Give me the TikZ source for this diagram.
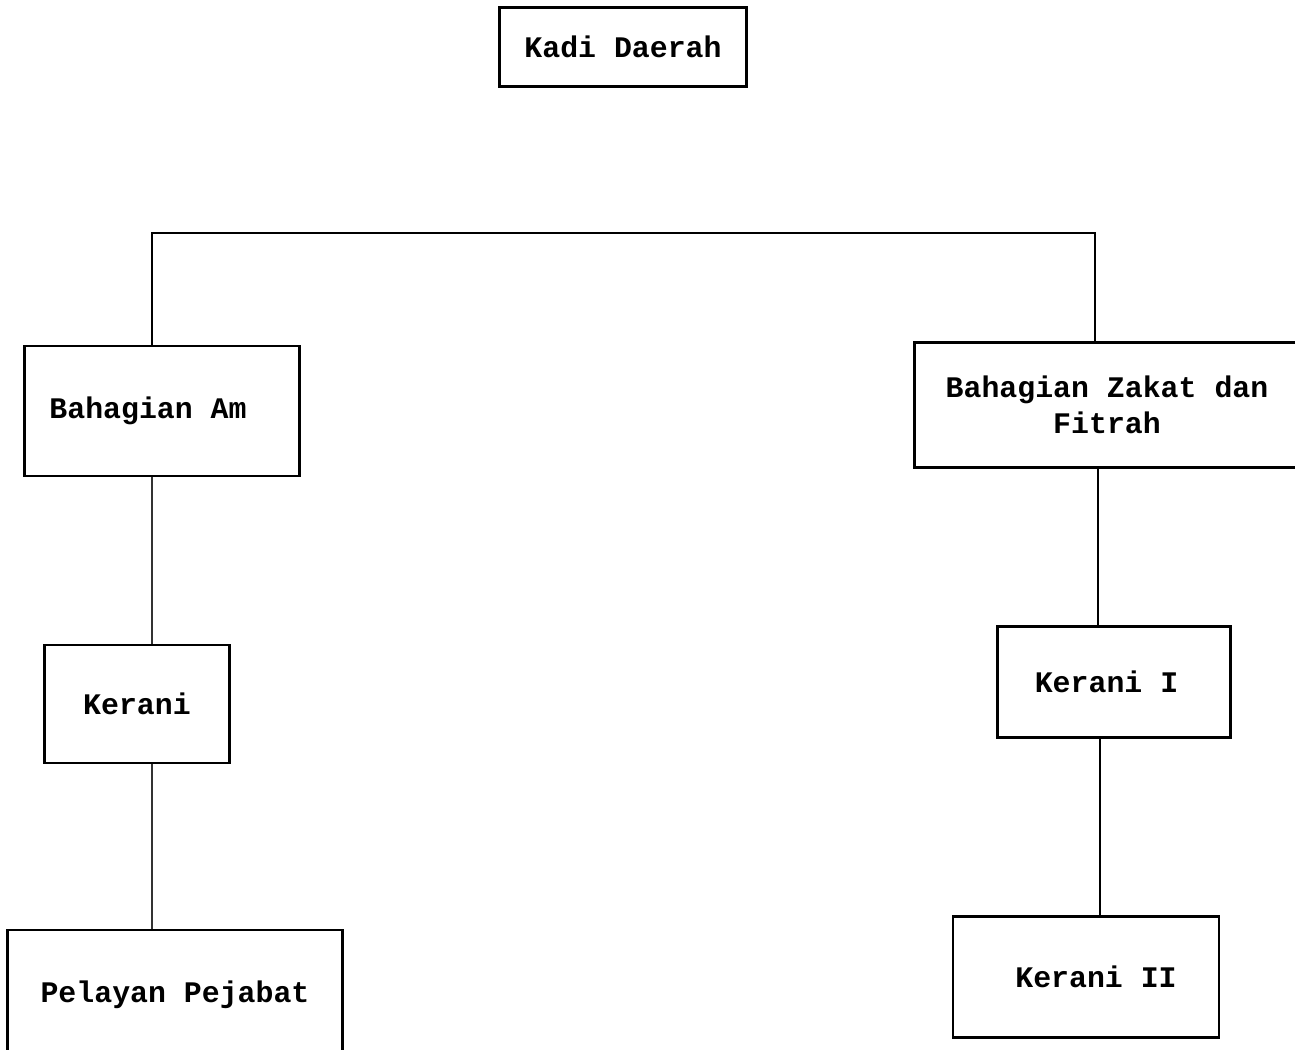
\documentclass[tikz,border=0pt]{standalone}
\usepackage{fontspec}
\setmonofont{Liberation Mono}
\begin{document}
\begin{tikzpicture}[x=0.02cm,y=-0.02cm,
  every node/.style={rectangle,draw=black,line width=1.4pt,align=center,inner sep=0pt,
    font=\ttfamily\bfseries\fontsize{17}{20.5}\selectfont},
  link/.style={draw=black,line width=1.2pt},
  thinlink/.style={draw=black!80,line width=0.7pt}]
  \useasboundingbox (0,0) rectangle (1295,1049);
  \node[minimum width=4.94cm,minimum height=1.58cm] (kadi) at (623,47) {Kadi Daerah};
  \node[minimum width=5.5cm,minimum height=2.6cm] (am) at (162,411) {\raisebox{-0.3cm}{Bahagian Am}\hspace*{0.56cm}};
  \node[minimum width=7.7cm,minimum height=2.5cm] (zakat) at (1107,405) {Bahagian Zakat dan\\Fitrah};
  \node[minimum width=3.7cm,minimum height=2.36cm] (kerani) at (137,704) {Kerani};
  \node[minimum width=4.66cm,minimum height=2.22cm] (kerani1) at (1114,682) {\raisebox{-0.1cm}{Kerani I}\hspace*{0.3cm}};
  \node[minimum width=6.7cm,minimum height=2.6cm] (pelayan) at (175,995) {Pelayan Pejabat};
  \node[minimum width=5.32cm,minimum height=2.42cm] (kerani2) at (1086,977) {\hspace*{0.4cm}\raisebox{-0.08cm}{Kerani II}};
  \coordinate (bl) at (152,233);
  \coordinate (br) at (1095,233);
  \draw[link] (am.north -| bl) -- (bl) -- (br) -- (zakat.north -| br);
  \draw[thinlink] (am.south -| bl) -- (kerani.north -| bl);
  \draw[thinlink] (kerani.south -| bl) -- (pelayan.north -| bl);
  \draw[link] (zakat.south -| 1098,0) -- (kerani1.north -| 1098,0);
  \draw[link] (kerani1.south -| 1100,0) -- (kerani2.north -| 1100,0);
\end{tikzpicture}
\end{document}
